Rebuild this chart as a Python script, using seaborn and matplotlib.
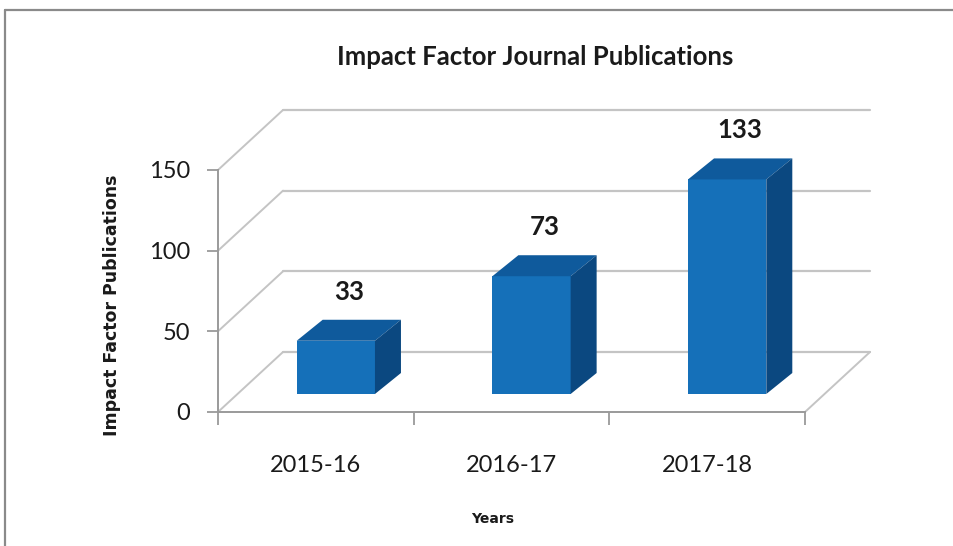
import numpy as np
import matplotlib
matplotlib.use('Agg')
import matplotlib.pyplot as plt
from matplotlib.lines import Line2D
import seaborn as sns


years = ['2015-16', '2016-17', '2017-18']
publications = [33, 73, 133]
y_ticks = [0, 50, 100, 150]

front_color = '#1570B9'
top_color = '#0F5A9C'
side_color = '#0B4880'
grid_color = '#C4C4C4'
axis_color = '#9A9A9A'

sns.set_style('white')
plt.rcParams['font.family'] = ['Lato', 'DejaVu Sans']

fig = plt.figure(figsize=(9.54, 5.46), dpi=100)
W, H = 954, 546
# axes placed so that the front floor edge / front value axis sit where Excel put them
ax = fig.add_axes([218 / W, (H - 412) / H, 587 / W, 242 / H])

sns.barplot(x=years, y=publications, color=front_color, width=0.4,
            saturation=1, ax=ax, zorder=3)
ax.set_xlim(-0.5, 2.5)
ax.set_ylim(0, 150)

# pixel -> data conversions for the fake 3-D offsets
px_x = 3 / 587
px_y = 150 / 242
back_dx, back_dy = 65 * px_x, 60 * px_y      # back wall
front_dx, front_dy = 20 * px_x, 18 * px_y    # bar front plane
depth_dx, depth_dy = 26 * px_x, 21 * px_y    # bar depth

# back wall gridlines + left wall diagonals
for v in y_ticks:
    ax.plot([-0.5 + back_dx, 2.5 + back_dx], [v + back_dy, v + back_dy],
            color=grid_color, lw=1.6, clip_on=False, zorder=0.5)
    ax.plot([-0.5, -0.5 + back_dx], [v, v + back_dy],
            color=grid_color, lw=1.4, clip_on=False, zorder=0.5)
ax.plot([2.5, 2.5 + back_dx], [0, back_dy], color=grid_color, lw=1.4,
        clip_on=False, zorder=0.5)

# shift bars into the middle of the floor and add top / side faces
for p, val in zip(ax.patches, publications):
    p.set_x(p.get_x() + front_dx)
    p.set_y(front_dy)
    p.set_linewidth(0)
    x0 = p.get_x()
    x1 = x0 + p.get_width()
    bot = front_dy
    top = front_dy + p.get_height()
    ax.fill([x0, x1, x1 + depth_dx, x0 + depth_dx],
            [top, top, top + depth_dy, top + depth_dy],
            color=top_color, lw=0, clip_on=False, zorder=3)
    ax.fill([x1, x1 + depth_dx, x1 + depth_dx, x1],
            [bot, bot + depth_dy, top + depth_dy, top],
            color=side_color, lw=0, clip_on=False, zorder=3)
    ax.text((x0 + x1) / 2 + depth_dx / 2, top + depth_dy + 28 * px_y, str(val),
            ha='center', va='center', fontsize=18.5, fontweight='bold',
            color='#1a1a1a', zorder=4)

# axes styling
for side in ['top', 'right']:
    ax.spines[side].set_visible(False)
for side in ['left', 'bottom']:
    ax.spines[side].set_color(axis_color)
    ax.spines[side].set_linewidth(1.4)

ax.set_yticks(y_ticks)
ax.tick_params(axis='y', length=8, width=1.3, color=axis_color, pad=12,
               labelsize=17, labelcolor='#1a1a1a', left=True)
ax.set_xticks([-0.5, 0.5, 1.5, 2.5])
ax.set_xticklabels([])
ax.set_xticks([0, 1, 2], minor=True)
ax.set_xticklabels(years, minor=True)
ax.tick_params(axis='x', which='major', length=9, width=1.3, color=axis_color,
               bottom=True)
ax.tick_params(axis='x', which='minor', length=0, pad=31, labelsize=17,
               labelcolor='#1a1a1a')

ax.set_ylabel('Impact Factor Publications', fontsize=12.5, fontweight='bold',
              family='DejaVu Sans', color='#1a1a1a')
ax.yaxis.set_label_coords(-0.165, 0.44)
ax.set_xlabel('Years', fontsize=10, fontweight='bold', family='DejaVu Sans',
              color='#1a1a1a')
ax.xaxis.set_label_coords(0.468, -0.415)

fig.text(535 / W, 1 - 57 / H, 'Impact Factor Journal Publications',
         ha='center', va='center', fontsize=18.5, fontweight='bold', color='#1a1a1a')

# chart area border (only top and left edges are visible in the crop)
fig.add_artist(Line2D([5 / W, 5 / W], [0, 1 - 10 / H], transform=fig.transFigure,
                      color='#8a8a8a', lw=1.6))
fig.add_artist(Line2D([5 / W, 1], [1 - 10 / H, 1 - 10 / H], transform=fig.transFigure,
                      color='#8a8a8a', lw=1.6))

fig.savefig('out.png', dpi=100)
